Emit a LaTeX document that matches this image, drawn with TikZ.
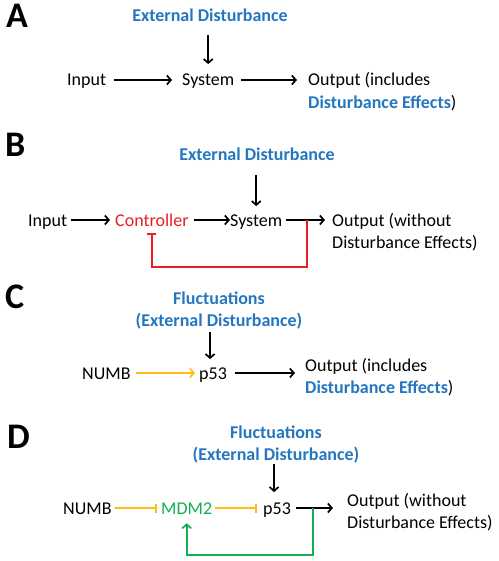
\documentclass[tikz,border=0pt]{standalone}
\usepackage{fontspec}
\setmainfont{Carlito}
\usetikzlibrary{arrows.meta}
\definecolor{dblue}{RGB}{36,118,192}
\definecolor{dred}{RGB}{232,30,36}
\definecolor{dyellow}{RGB}{255,190,20}
\definecolor{dgreen}{RGB}{20,176,80}
\tikzset{
  lbl/.style={font=\fontsize{36}{36}\selectfont\bfseries, inner sep=0pt, anchor=base west},
  txt/.style={font=\fontsize{18}{22}\selectfont, inner sep=0pt, anchor=base west},
  dist/.style={font=\fontsize{18}{22}\selectfont\bfseries, text=dblue, inner sep=0pt, align=center, anchor=base},
  outtxt/.style={font=\fontsize{18}{22.5}\selectfont, inner sep=0pt, align=left, anchor=base west},
  arr/.style={line width=1.8pt, -{Straight Barb[length=4pt,width=9pt,line width=1.7pt]}},
  inh/.style={line width=1.8pt, -{Bar[width=9pt,line width=1.8pt]}},
}
\begin{document}
\begin{tikzpicture}[x=1pt,y=-1pt]
\useasboundingbox (0,0) rectangle (498,561);
% ---------- A ----------
\node[lbl] (la) at (6,28) {A};
\node[dist] (extA) at (210,22) {External Disturbance};
\coordinate (rA) at (0,80);
\node[txt] (inA) at (67,86) {Input};
\node[txt] (sysA) at (182,86) {System};
\node[outtxt] (outA) at (308,108.5) {Output (includes\\\textcolor{dblue}{\bfseries Disturbance Effects})};
\draw[arr, shorten <=13pt, shorten >=10pt] (sysA.north |- extA.south) -- (sysA.north);
\draw[arr, shorten <=8pt, shorten >=10pt] (inA.east |- rA) -- (sysA.west |- rA);
\draw[arr, shorten <=7pt, shorten >=11pt] (sysA.east |- rA) -- (outA.west |- rA);
% ---------- B ----------
\node[lbl] (lb) at (5,157) {B};
\node[dist] (extB) at (257,161) {External Disturbance};
\coordinate (rB) at (0,220);
\node[txt] (inB) at (28,226) {Input};
\node[txt, text=dred] (ctrB) at (115,226) {Controller};
\node[txt] (sysB) at (230,226) {System};
\node[outtxt] (outB) at (332,248.5) {Output (without\\Disturbance Effects)};
\draw[arr, shorten <=14pt, shorten >=8pt] (sysB.north |- extB.south) -- (sysB.north);
\draw[arr, shorten <=4pt, shorten >=5pt] (inB.east |- rB) -- (ctrB.west |- rB);
\draw[arr, shorten <=5pt, shorten >=0pt] (ctrB.east |- rB) -- (sysB.west |- rB);
\draw[arr, shorten <=4pt, shorten >=7pt] (sysB.east |- rB) -- (outB.west |- rB);
\coordinate (fbB) at (307,220);
\draw[dred, inh, line join=miter] (fbB) |- ([yshift=-41pt]ctrB.south) -- ([yshift=-7pt]ctrB.south);
% ---------- C ----------
\node[lbl] (lc) at (5,308) {C};
\node[dist] (extC) at (219,326) {Fluctuations\\(External Disturbance)};
\coordinate (rC) at (0,373);
\node[txt] (numC) at (82,379) {NUMB};
\node[txt] (p53C) at (199,379) {p53};
\node[outtxt] (outC) at (305,393.5) {Output (includes\\\textcolor{dblue}{\bfseries Disturbance Effects})};
\draw[arr, shorten <=3pt, shorten >=8pt] ([xshift=-3pt]p53C.north |- extC.south) -- ([xshift=-3pt]p53C.north);
\draw[arr, dyellow, shorten <=5pt, shorten >=4pt] (numC.east |- rC) -- (p53C.west |- rC);
\draw[arr, shorten <=8pt, shorten >=10pt] (p53C.east |- rC) -- (outC.west |- rC);
% ---------- D ----------
\node[lbl] (ld) at (7,448) {D};
\node[dist] (extD) at (276,460) {Fluctuations\\(External Disturbance)};
\coordinate (rD) at (0,508);
\node[txt] (numD) at (63,514) {NUMB};
\node[txt, text=dgreen] (mdmD) at (161,514) {MDM2};
\node[txt] (p53D) at (263,514) {p53};
\node[outtxt] (outD) at (347,528.5) {Output (without\\Disturbance Effects)};
\draw[arr, shorten <=1pt, shorten >=10pt] ([xshift=-3pt]p53D.north |- extD.south) -- ([xshift=-3pt]p53D.north);
\draw[inh, dyellow, shorten <=3pt, shorten >=4pt] (numD.east |- rD) -- (mdmD.west |- rD);
\draw[inh, dyellow, shorten <=3pt, shorten >=6pt] (mdmD.east |- rD) -- (p53D.west |- rD);
\draw[arr, shorten <=5pt, shorten >=14pt] (p53D.east |- rD) -- (outD.west |- rD);
\coordinate (fbD) at (313,508);
\draw[arr, dgreen, line join=miter] (fbD) |- ([yshift=-41pt]mdmD.south) -- ([yshift=-9pt]mdmD.south);
\end{tikzpicture}
\end{document}
